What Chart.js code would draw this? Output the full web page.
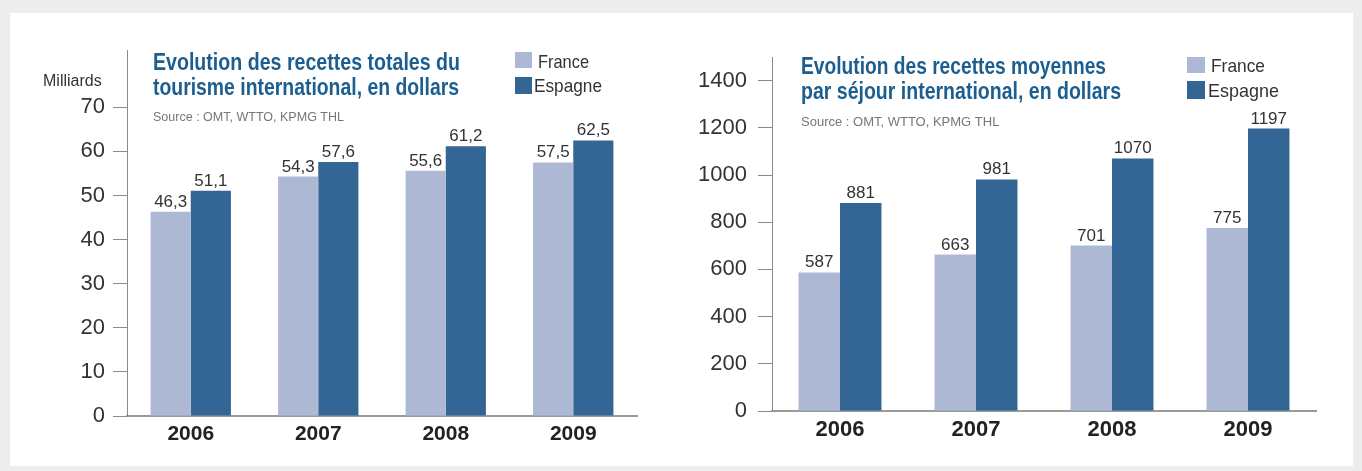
<!DOCTYPE html>
<html>
  <head>
    <title>Recettes du tourisme international</title>
    <script src="https://cdn.jsdelivr.net/npm/chart.js"></script>
    <style>
      body {
        margin: 0;
        background: #eceeee;
        width: 1362px;
        height: 471px;
        overflow: hidden;
        position: relative;
      }
      .panel {
        position: absolute;
        left: 10px;
        top: 13px;
        width: 1343px;
        height: 453px;
        background: #ffffff;
      }
      #left_chart {
        position: absolute;
        left: 0;
        top: 0;
      }
      #right_chart {
        position: absolute;
        left: 670px;
        top: 0;
      }
    </style>
  </head>
  <body>
    <div class="panel">
      <canvas id="left_chart" width="670" height="453"></canvas>
      <canvas id="right_chart" width="673" height="453"></canvas>
    </div>

    <script>
      // data
      var years = ["2006", "2007", "2008", "2009"];
      var seriesNames = ["France", "Espagne"];
      var totalFrance = [46.3, 54.3, 55.6, 57.5];
      var totalEspagne = [51.1, 57.6, 61.2, 62.5];
      var sejourFrance = [587, 663, 701, 775];
      var sejourEspagne = [881, 981, 1070, 1197];
      var totalTicks = [0, 10, 20, 30, 40, 50, 60, 70];
      var sejourTicks = [0, 200, 400, 600, 800, 1000, 1200, 1400];

      var SANS = '"Liberation Sans", Arial, sans-serif';
      var colFrance = "#adb9d4";
      var colEspagne = "#336695";

      // draws value labels, title, source, legend and unit inside the canvas
      var overlayPlugin = {
        id: "overlay",
        afterDatasetsDraw: function (chart) {
          var o = chart.options.plugins.overlay;
          var ctx = chart.ctx;
          ctx.save();

          // values above bars
          ctx.fillStyle = "#333333";
          ctx.font = "17px " + SANS;
          ctx.textAlign = "center";
          ctx.textBaseline = "alphabetic";
          chart.data.datasets.forEach(function (ds, i) {
            chart.getDatasetMeta(i).data.forEach(function (bar, j) {
              var txt = String(ds.data[j]).replace(".", ",");
              ctx.fillText(txt, bar.x, bar.y - 5);
            });
          });

          ctx.textAlign = "left";

          // title
          ctx.fillStyle = "#1b5e8f";
          ctx.font = "bold 23px " + SANS;
          o.title.forEach(function (line, k) {
            ctx.fillText(line, o.titleX, o.titleY[k], o.titleW[k]);
          });

          // source
          ctx.fillStyle = "#777777";
          ctx.font = "13px " + SANS;
          ctx.fillText(o.source, o.titleX, o.sourceY, o.sourceW);

          // legend
          ctx.font = "19px " + SANS;
          chart.data.datasets.forEach(function (ds, i) {
            var lg = o.legend[i];
            ctx.fillStyle = ds.backgroundColor;
            ctx.fillRect(lg.x, lg.y, lg.size, lg.h);
            ctx.fillStyle = "#333333";
            ctx.fillText(ds.label, lg.tx, lg.ty, lg.tw);
          });

          // unit
          if (o.unit) {
            ctx.fillStyle = "#333333";
            ctx.font = "16px " + SANS;
            ctx.fillText(o.unit.text, o.unit.x, o.unit.y, o.unit.w);
          }

          ctx.restore();
        },
      };

      function makeChart(id, fr, es, tickValues, cfg) {
        var ctx = document.getElementById(id).getContext("2d");
        return new Chart(ctx, {
          type: "bar",
          data: {
            labels: years,
            datasets: [
              {
                label: seriesNames[0],
                data: fr,
                backgroundColor: colFrance,
                barPercentage: 1,
                categoryPercentage: cfg.catPct,
              },
              {
                label: seriesNames[1],
                data: es,
                backgroundColor: colEspagne,
                barPercentage: 1,
                categoryPercentage: cfg.catPct,
              },
            ],
          },
          options: {
            responsive: false,
            animation: false,
            layout: {
              padding: { left: 0, right: cfg.padRight, top: cfg.padTop, bottom: 0 },
            },
            scales: {
              x: {
                grid: { display: false, drawTicks: false },
                border: { display: true, color: "#9a9a9a", width: 2 },
                ticks: {
                  color: "#222222",
                  padding: 6,
                  font: { family: SANS, size: cfg.yearSize, weight: "bold" },
                },
                afterFit: function (s) {
                  s.height = cfg.xHeight;
                },
              },
              y: {
                min: 0,
                max: cfg.max,
                grid: {
                  drawOnChartArea: false,
                  drawTicks: true,
                  tickLength: 14,
                  color: "#8a8a8a",
                },
                border: { display: true, color: "#8a8a8a", width: 1 },
                ticks: {
                  padding: cfg.tickPad,
                  color: "#333333",
                  font: { family: SANS, size: 22 },
                  callback: function (v) {
                    return String(v);
                  },
                },
                afterBuildTicks: function (s) {
                  s.ticks = tickValues.map(function (v) {
                    return { value: v };
                  });
                },
                afterFit: function (s) {
                  s.width = cfg.yWidth;
                },
              },
            },
            plugins: {
              legend: { display: false },
              tooltip: { enabled: false },
              overlay: cfg.overlay,
            },
          },
          plugins: [overlayPlugin],
        });
      }

      var leftChart = makeChart("left_chart", totalFrance, totalEspagne, totalTicks, {
        catPct: 0.63,
        padRight: 43,
        padTop: 37,
        xHeight: 50,
        yearSize: 21,
        max: 83,
        tickPad: 8,
        yWidth: 117,
        overlay: {
          title: [
            "Evolution des recettes totales du",
            "tourisme international, en dollars",
          ],
          titleX: 143,
          titleY: [57, 82],
          titleW: [307, 306],
          source: "Source : OMT, WTTO, KPMG THL",
          sourceY: 108,
          sourceW: 191,
          legend: [
            { x: 505, y: 39, size: 17, h: 16, tx: 528, ty: 55, tw: 51 },
            { x: 505, y: 64, size: 17, h: 17, tx: 524, ty: 79, tw: 68 },
          ],
          unit: { text: "Milliards", x: 33, y: 73, w: 61 },
        },
      });

      var rightChart = makeChart("right_chart", sejourFrance, sejourEspagne, sejourTicks, {
        catPct: 0.61,
        padRight: 37,
        padTop: 44,
        xHeight: 55,
        yearSize: 22,
        max: 1500,
        tickPad: 11,
        yWidth: 92,
        overlay: {
          title: [
            "Evolution des recettes moyennes",
            "par séjour international, en dollars",
          ],
          titleX: 121,
          titleY: [61, 86],
          titleW: [305, 320],
          source: "Source : OMT, WTTO, KPMG THL",
          sourceY: 113,
          sourceW: 203,
          legend: [
            { x: 507, y: 44, size: 18, h: 16, tx: 531, ty: 59, tw: 54 },
            { x: 507, y: 68, size: 18, h: 18, tx: 528, ty: 84, tw: 71 },
          ],
        },
      });
    </script>
  </body>
</html>
